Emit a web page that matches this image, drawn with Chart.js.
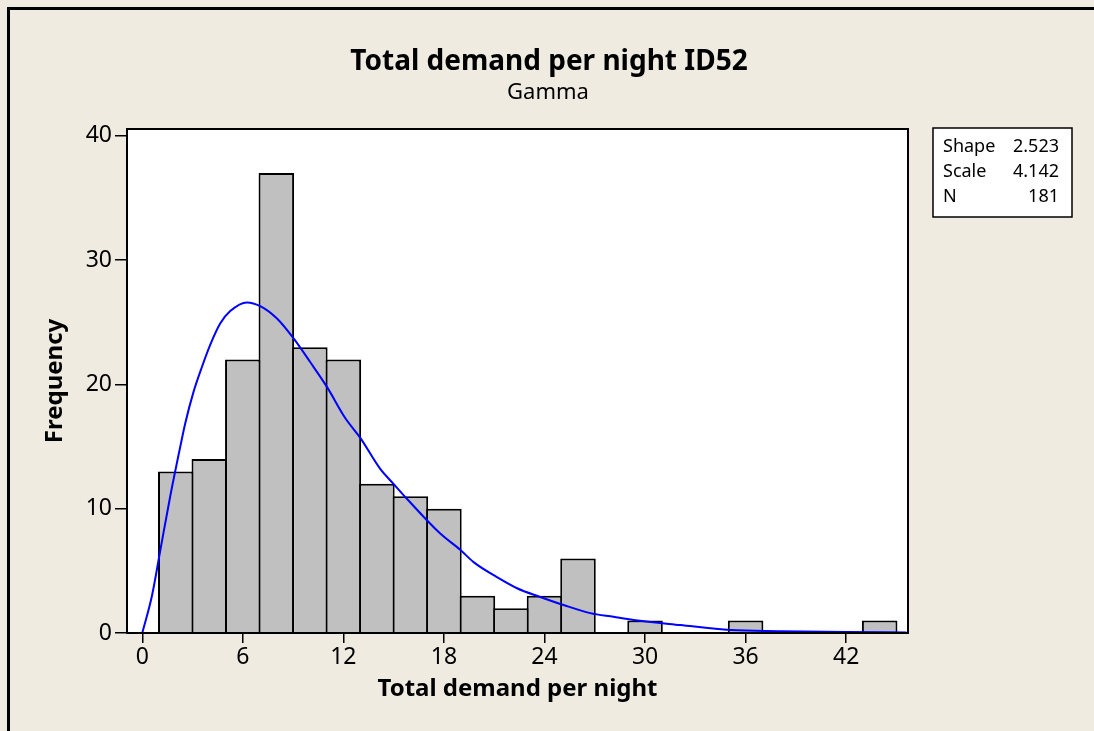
<!DOCTYPE html>
<html>
<head>
<meta charset="utf-8">
<script src="https://cdn.jsdelivr.net/npm/chart.js@4.4.1/dist/chart.umd.min.js"></script>
<style>
    html, body { margin: 0; padding: 0; background: #EFEBE1; }
    canvas { display: block; }
</style>
</head>
<body>
<canvas id="hist_Chart" width="1094" height="731"></canvas>
<script>
// histogram bins (midpoints, width 2) and counts
const binMids = [2, 4, 6, 8, 10, 12, 14, 16, 18, 20, 22, 24, 26, 28, 30, 32, 34, 36, 38, 40, 42, 44];
const counts = [13, 14, 22, 37, 23, 22, 12, 11, 10, 3, 2, 3, 6, 0, 1, 0, 0, 1, 0, 0, 0, 1];

// fitted gamma curve
const fitX = [0, 0.58, 1.07, 1.67, 2.27, 2.57, 3.06, 3.56, 4.06, 4.65, 5.25, 6.25, 7.04, 8.04, 9.03, 10.02, 11.02,
    12.11, 13.01, 14.2, 14.99, 15.79, 17.78, 18.97, 19.77, 21.16, 22.36, 23.75, 25.14, 26.73, 28.12, 29.31,
    32.1, 35.1, 38.1, 42, 45.6];
const fitY = [0, 3.0, 6.6, 11.0, 15.0, 16.9, 19.4, 21.4, 23.2, 24.9, 25.9, 26.6, 26.3, 25.3, 23.7, 21.8, 19.8,
    17.3, 15.7, 13.2, 12.0, 10.8, 8.0, 6.7, 5.7, 4.5, 3.6, 2.9, 2.25, 1.6, 1.3, 1.05,
    0.64, 0.24, 0.15, 0.08, 0.04];

const xTicks = [0, 6, 12, 18, 24, 30, 36, 42];
const yTicks = [0, 10, 20, 30, 40];

const statLabels = ['Shape', 'Scale', 'N'];
const statValues = ['2.523', '4.142', '181'];

const chartTitle = 'Total demand per night ID52';
const chartSubtitle = 'Gamma';

Chart.defaults.font.family = "'Noto Sans', 'DejaVu Sans', sans-serif";
Chart.defaults.color = '#000';

const pageBackdrop = {
    id: 'pageBackdrop',
    beforeDraw(chart) {
        const ctx = chart.ctx;
        ctx.save();
        ctx.fillStyle = '#EFEBE1';
        ctx.fillRect(0, 0, chart.width, chart.height);
        ctx.fillStyle = '#000';
        ctx.fillRect(7, 7, 3, chart.height);   // left edge
        ctx.fillRect(7, 7, chart.width, 3);    // top edge
        ctx.restore();
    },
    beforeDatasetsDraw(chart) {
        const a = chart.chartArea;
        chart.ctx.save();
        chart.ctx.fillStyle = '#fff';
        chart.ctx.fillRect(a.left, a.top, a.right - a.left, a.bottom - a.top);
        chart.ctx.restore();
    },
    afterDatasetsDraw(chart) {
        const a = chart.chartArea;
        const ctx = chart.ctx;
        ctx.save();
        ctx.strokeStyle = '#000';
        ctx.lineWidth = 2;
        ctx.strokeRect(a.left, a.top, a.right - a.left, a.bottom - a.top);
        ctx.restore();
    },
    afterDraw(chart) {
        const ctx = chart.ctx;
        const a = chart.chartArea;
        ctx.save();
        // titles
        ctx.textAlign = 'center';
        ctx.textBaseline = 'middle';
        ctx.fillStyle = '#000';
        ctx.font = "bold 28px 'Noto Sans'";
        ctx.fillText(chartTitle, 549, 62);
        ctx.font = "22px 'Noto Sans'";
        ctx.fillText(chartSubtitle, 548, 93);

        // stats box
        const bx = a.right + 25, by = a.top - 1, bw = 139, bh = 89;
        ctx.fillStyle = '#fff';
        ctx.fillRect(bx, by, bw, bh);
        ctx.strokeStyle = '#000';
        ctx.lineWidth = 1.5;
        ctx.strokeRect(bx, by, bw, bh);
        ctx.fillStyle = '#000';
        ctx.font = "18px 'Noto Sans'";
        statLabels.forEach((lab, i) => {
            const ty = by + 19 + i * 25;
            ctx.textAlign = 'left';
            ctx.fillText(lab, bx + 10, ty);
            ctx.textAlign = 'right';
            ctx.fillText(statValues[i], bx + bw - 13, ty);
        });
        ctx.restore();
    }
};

const ctxHist = document.getElementById('hist_Chart').getContext('2d');
new Chart(ctxHist, {
    type: 'bar',
    data: {
        datasets: [{
            type: 'line',
            data: fitX.map((x, i) => ({ x: x, y: fitY[i] })),
            borderColor: '#0000FF',
            borderWidth: 2,
            pointRadius: 0,
            fill: false,
            cubicInterpolationMode: 'monotone',
            order: 1
        }, {
            type: 'bar',
            data: binMids.map((m, i) => ({ x: m, y: counts[i] })),
            backgroundColor: '#C0C0C0',
            borderColor: '#000',
            borderWidth: 2,
            barPercentage: 1.06,
            categoryPercentage: 1,
            order: 2
        }]
    },
    options: {
        responsive: false,
        animation: false,
        events: [],
        layout: {
            padding: { left: 10, right: 186, top: 129, bottom: 0 }
        },
        plugins: {
            legend: { display: false },
            title: { display: false },
            tooltip: { enabled: false }
        },
        scales: {
            x: {
                type: 'linear',
                min: -0.91,
                max: 45.69,
                offset: false,
                grid: { offset: false, drawOnChartArea: false, tickLength: 10, color: '#000', lineWidth: 1.5 },
                border: { display: false },
                ticks: { font: { size: 23 }, color: '#000', padding: 1, maxRotation: 0, autoSkip: false },
                afterBuildTicks: (scale) => { scale.ticks = xTicks.map(v => ({ value: v })); },
                afterFit: (scale) => { scale.height = 98; scale.paddingLeft = 0; scale.paddingRight = 0; },
                title: {
                    display: true,
                    text: 'Total demand per night',
                    font: { size: 24, weight: 'bold' },
                    color: '#000',
                    padding: { top: 0, bottom: 27 }
                }
            },
            y: {
                min: 0,
                max: 40.55,
                grid: { drawOnChartArea: false, tickLength: 12, color: '#000', lineWidth: 1.5 },
                border: { display: false },
                ticks: { font: { size: 23 }, color: '#000', padding: 3 },
                afterBuildTicks: (scale) => { scale.ticks = yTicks.map(v => ({ value: v })); },
                afterFit: (scale) => { scale.width = 117; scale.paddingTop = 0; scale.paddingBottom = 0; },
                title: {
                    display: true,
                    text: 'Frequency',
                    font: { size: 24, weight: 'bold' },
                    color: '#000',
                    padding: { top: 31, bottom: 0 }
                }
            }
        }
    },
    plugins: [pageBackdrop]
});
</script>
</body>
</html>
